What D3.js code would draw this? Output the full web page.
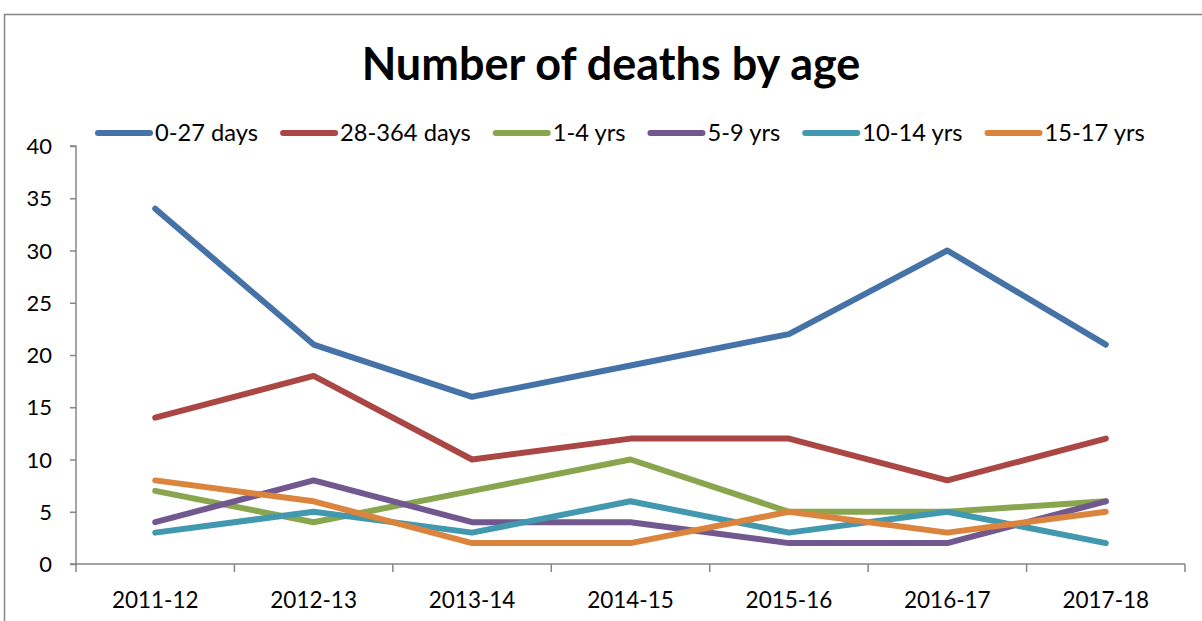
<!DOCTYPE html>
<html>
<head>
<meta charset="utf-8">
<script src="https://cdn.jsdelivr.net/npm/d3@7"></script>
<style>
  body { margin: 0; background: #fff; }
  svg text { font-family: Lato, "Open Sans", sans-serif; fill: #000; }
</style>
</head>
<body>
<div id="chart"></div>
<script>
var years = ['2011-12', '2012-13', '2013-14', '2014-15', '2015-16', '2016-17', '2017-18']
var seriesNames = ['0-27 days', '28-364 days', '1-4 yrs', '5-9 yrs', '10-14 yrs', '15-17 yrs']
var days0to27 = [34, 21, 16, 19, 22, 30, 21]
var days28to364 = [14, 18, 10, 12, 12, 8, 12]
var yrs1to4 = [7, 4, 7, 10, 5, 5, 6]
var yrs5to9 = [4, 8, 4, 4, 2, 2, 6]
var yrs10to14 = [3, 5, 3, 6, 3, 5, 2]
var yrs15to17 = [8, 6, 2, 2, 5, 3, 5]
var yTicks = [0, 5, 10, 15, 20, 25, 30, 35, 40]

var colors = ['#4572A7', '#AA4643', '#89A54E', '#71588F', '#4198AF', '#DB843D']
var series = [days0to27, days28to364, yrs1to4, yrs5to9, yrs10to14, yrs15to17]
  .map(function(vals, i){ return {name: seriesNames[i], values: vals, color: colors[i]} })

var W = 1202, H = 621
var svg = d3.select('#chart').append('svg').attr('width', W).attr('height', H)

// outer chart border
svg.append('rect')
  .attr('x', 4.5).attr('y', 14.5).attr('width', W + 10).attr('height', H + 10)
  .attr('fill', 'none').attr('stroke', '#868686').attr('stroke-width', 1.5)

var plot = {left: 76, right: 1185, top: 146, bottom: 564}

var x = d3.scaleBand().domain(years).range([plot.left, plot.right]).padding(0)
var y = d3.scaleLinear().domain([0, 40]).range([plot.bottom, plot.top])

// title
svg.append('text')
  .attr('x', 611).attr('y', 80)
  .attr('text-anchor', 'middle')
  .style('font-size', '45px').style('font-weight', 'bold')
  .text('Number of deaths by age')

// y axis
var yAxis = d3.axisLeft(y).tickValues(yTicks).tickSize(6).tickPadding(18)
var gy = svg.append('g').attr('transform', 'translate(' + plot.left + ',0)').call(yAxis)
gy.selectAll('text').style('font-size', '22px').attr('dy', '0.35em')

// x axis: ticks on category boundaries
var gx = svg.append('g').attr('transform', 'translate(0,' + plot.bottom + ')')
gx.append('line')
  .attr('x1', plot.left).attr('x2', plot.right)
gx.selectAll('line.tick')
  .data(years.concat(['end']))
  .enter().append('line').attr('class', 'tick')
  .attr('x1', function(d, i){ return i < years.length ? x(d) : plot.right })
  .attr('x2', function(d, i){ return i < years.length ? x(d) : plot.right })
  .attr('y1', 0).attr('y2', 8)
gx.selectAll('text')
  .data(years)
  .enter().append('text')
  .attr('x', function(d){ return x(d) + x.bandwidth() / 2 })
  .attr('y', 44)
  .attr('text-anchor', 'middle')
  .style('font-size', '22.5px')
  .text(function(d){ return d })

svg.selectAll('.domain, .tick line, g line').attr('stroke', '#868686').attr('stroke-width', 1.5)
gy.select('.domain').attr('d', 'M' + (-6) + ',' + plot.bottom + 'H0V' + plot.top + 'H-6')

// lines
var line = d3.line()
  .x(function(d, i){ return x(years[i]) + x.bandwidth() / 2 })
  .y(function(d){ return y(d) })

svg.selectAll('path.series')
  .data(series)
  .enter().append('path').attr('class', 'series')
  .attr('d', function(s){ return line(s.values) })
  .attr('fill', 'none')
  .attr('stroke', function(s){ return s.color })
  .attr('stroke-width', 6)
  .attr('stroke-linejoin', 'round')
  .attr('stroke-linecap', 'round')

// legend
var legend = svg.append('g')
var lx = 98
series.forEach(function(s){
  var g = legend.append('g').attr('transform', 'translate(' + lx + ',133)')
  g.append('line').attr('x1', 0).attr('x2', 52).attr('y1', 0).attr('y2', 0)
    .attr('stroke', s.color).attr('stroke-width', 6).attr('stroke-linecap', 'round')
  var t = g.append('text').attr('x', 57).attr('y', 0).attr('dy', '0.35em')
    .style('font-size', '23.7px').text(s.name)
  lx += 57 + t.node().getComputedTextLength() + 25
})
</script>
</body>
</html>
